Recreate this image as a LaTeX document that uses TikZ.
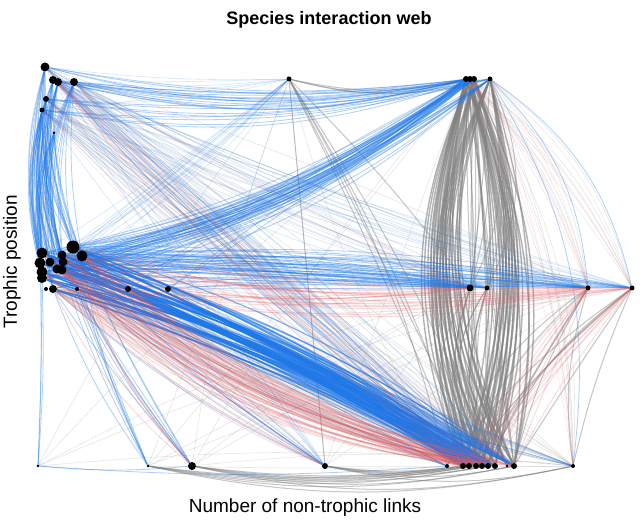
\documentclass[tikz,border=0pt]{standalone}
\usepackage{fontspec}
\setmainfont{Liberation Sans}
\pgfdeclarelayer{back}
\pgfdeclarelayer{edges}
\pgfsetlayers{back,edges,main}
\definecolor{cblue}{RGB}{30,120,232}
\definecolor{cred}{RGB}{226,92,98}
\definecolor{cgray}{RGB}{128,128,128}
\tikzset{
  vtx/.style={circle, fill=black, inner sep=0pt, minimum size=#1},
  blu/.style={draw=cblue, line width=0.8pt, opacity=0.35},
  bluS/.style={draw=cblue, line width=1.2pt, opacity=0.55},
  bluF/.style={draw=cblue, line width=0.6pt, opacity=0.18},
  redl/.style={draw=cred, line width=0.9pt, opacity=0.22},
  redF/.style={draw=cred, line width=0.6pt, opacity=0.15},
  gry/.style={draw=cgray, line width=1pt, opacity=0.45},
  gryT/.style={draw=cgray, line width=1.4pt, opacity=0.6},
  gryF/.style={draw=cgray, line width=0.6pt, opacity=0.2},
  lbl/.style={font=\fontsize{19}{22}\selectfont, inner sep=0pt}
}
\newcommand\webedges[5]{%
  \foreach \a [count=\i] in {#2} {%
    \foreach \b [count=\j] in {#3} {%
      \pgfmathtruncatemacro\bb{#4+mod(\i*7+\j*13,#5+1)-#5/2}%
      \draw[#1] (\a) to[bend left=\bb] (\b);
    }}}
\begin{document}
\begin{tikzpicture}[x=1pt,y=1pt]
\useasboundingbox (0,0) rectangle (640,522);
\begin{pgfonlayer}{back}
\fill[white] (0,0) rectangle (640,522);
\end{pgfonlayer}
% ---- nodes: top row
\node[vtx=9pt] (tl1) at (45,455) {};
\node[vtx=8pt] (tl2) at (53,442) {};
\node[vtx=8pt] (tl3) at (58,440) {};
\node[vtx=8pt] (tl4) at (74,440) {};
\node[vtx=6pt] (tl5) at (46,423) {};
\node[vtx=5pt] (tl6) at (42,412) {};
\node[vtx=3pt] (tl7) at (54,389) {};
\node[vtx=5pt] (tm) at (289,443) {};
\node[vtx=6pt] (tr1) at (466,443) {};
\node[vtx=6pt] (tr2) at (470,443) {};
\node[vtx=6pt] (tr3) at (474,443) {};
\node[vtx=5pt] (tr4) at (490,443) {};
% ---- middle row
\node[vtx=13pt] (ml1) at (73,275) {};
\node[vtx=11pt] (ml2) at (82,266) {};
\node[vtx=11pt] (ml3) at (42,269) {};
\node[vtx=11pt] (ml4) at (40,259) {};
\node[vtx=9pt] (ml5) at (50,260) {};
\node[vtx=9pt] (ml6) at (62,267) {};
\node[vtx=9pt] (ml7) at (63,260) {};
\node[vtx=9pt] (ml8) at (57,253) {};
\node[vtx=9pt] (ml9) at (62,252) {};
\node[vtx=11pt] (ml10) at (42,250) {};
\node[vtx=10pt] (ml11) at (42,244) {};
\node[vtx=8pt] (ml12) at (53,233) {};
\node[vtx=4pt] (ml13) at (46,233) {};
\node[vtx=4pt] (ml14) at (77,233) {};
\node[vtx=6pt] (ml15) at (128,233) {};
\node[vtx=6pt] (ml16) at (168,233) {};
\node[vtx=7pt] (mr1) at (470,234) {};
\node[vtx=5pt] (mr2) at (487,234) {};
\node[vtx=5pt] (mr3) at (588,234) {};
\node[vtx=5pt] (mr4) at (632,234) {};
% ---- bottom row
\node[vtx=3pt] (b1) at (38,56) {};
\node[vtx=3pt] (b2) at (148,56) {};
\node[vtx=8pt] (b3) at (192,56) {};
\node[vtx=6pt] (b4) at (325,56) {};
\node[vtx=4pt] (b5) at (447,56) {};
\node[vtx=6pt] (bc1) at (463,56) {};
\node[vtx=6pt] (bc2) at (469,56) {};
\node[vtx=6pt] (bc3) at (476,56) {};
\node[vtx=6pt] (bc4) at (482,56) {};
\node[vtx=6pt] (bc5) at (488,56) {};
\node[vtx=6pt] (bc6) at (495,56) {};
\node[vtx=3pt] (bc7) at (507,56) {};
\node[vtx=6pt] (bc8) at (514,56) {};
\node[vtx=4pt] (br) at (573,56) {};
% ---- labels
\node[font=\bfseries\fontsize{18}{21}\selectfont, inner sep=0pt] (title) at (329,502) {Species interaction web};
\node[lbl] (xlab) at (305,14) {Number of non-trophic links};
\node[lbl, rotate=90] (ylab) at (12,260) {Trophic position};
% ---- edges
\begin{pgfonlayer}{edges}
% gray
\webedges{gryF}{tl1,tl2,tl4,tl5,tl6}{bc1,bc3,bc5,bc8,br,mr3}{0}{10}
\webedges{gryF}{ml1,ml3,ml5,ml8,ml11,ml12,ml15,ml16}{bc1,bc3,bc6,br,b4,b5}{-4}{12}
\webedges{gryT}{tr1,tr2,tr3,tr4}{bc1,bc2,bc3,bc4,bc5,bc6,bc7,bc8}{-18}{12}
\webedges{gryT}{tr1,tr2,tr3,tr4}{bc1,bc2,bc3,bc4,bc5,bc6,bc8}{17}{12}
\webedges{gry}{tr1,tr2,tr3}{bc1,bc3,bc5,bc8}{0}{8}
\webedges{gry}{mr1,mr2}{bc1,bc2,bc3,bc4,bc5,bc6,bc8}{-20}{30}
\webedges{gry}{mr1,mr2}{tr1,tr2,tr3,tr4}{-15}{30}
\webedges{gry}{mr3,mr4}{bc1,bc3,bc5,bc8,br,b5}{-8}{16}
\webedges{gryF}{tr1,tr2,tr3,tr4}{mr3,mr4,br}{14}{10}
\webedges{gry}{tm}{tr1,tr2,tr4}{-13}{4}
\webedges{gry}{tm}{bc1,bc2,bc4,bc6,b4,mr1,b5}{4}{8}
\webedges{gry}{b2,b3,b4}{bc1,bc2,bc3,bc5,bc8,br}{-10}{6}
\webedges{gryF}{b1,b2,b3,b4,b5}{mr1,mr3,tr1,tm,br}{4}{12}
% blue
\webedges{blu}{tl1,tl2,tl3,tl4,tl5,tl6}{tr1,tr2,tr3,tr4}{-10}{8}
\webedges{blu}{tl1,tl2,tl3,tl4,tl5,tl6,tl7}{ml1,ml2,ml3,ml4,ml5,ml6,ml7,ml8,ml9,ml10,ml11,ml12}{-12}{10}
\webedges{bluF}{tl1,tl2,tl3,tl4,tl5,tl6}{mr1,mr2,mr3,mr4,tm}{-5}{10}
\webedges{bluF}{tl1,tl2,tl3,tl4,tl5,tl6}{bc1,bc2,bc3,bc4,bc5,bc6,bc8,b4}{0}{10}
\webedges{bluS}{ml1,ml2,ml3,ml4,ml5,ml6,ml7,ml8,ml9,ml10,ml11,ml12,ml14}{bc1,bc2,bc3,bc4,bc5,bc6,bc8}{6}{8}
\webedges{blu}{ml1,ml2,ml3,ml4,ml5,ml6,ml7,ml8,ml9,ml10,ml11,ml12}{tr1,tr2,tr3,tr4}{-12}{8}
\webedges{blu}{ml1,ml2,ml3,ml4,ml5,ml6,ml7,ml8,ml9,ml10,ml11}{mr1,mr2,mr3,mr4}{3}{10}
\webedges{bluF}{ml1,ml2,ml3,ml4,ml5,ml6,ml7,ml8,ml9,ml10,ml11,ml12}{tm,br,b5}{-4}{12}
\webedges{blu}{ml1,ml2,ml6,ml7,ml9,ml12,ml14}{b2,b3,b4}{-4}{8}
\webedges{blu}{ml15,ml16}{tr1,tr2,bc1,bc3,bc5,mr1,mr3}{2}{8}
\webedges{blu}{b1}{ml3,ml4,ml11,b5,b3}{-4}{6}
\webedges{blu}{tr4}{mr4,mr3,br}{18}{6}
% red
\webedges{redl}{ml1,ml2,ml3,ml5,ml6,ml8,ml10,ml12,ml14,ml15}{bc1,bc2,bc3,bc5,bc6,bc8}{-12}{10}
\webedges{redl}{ml1,ml2,ml5,ml6,ml8,ml10,ml12,ml15}{mr1,mr3,mr4}{-8}{8}
\webedges{redF}{tl1,tl2,tl3,tl4,tl5,tl6}{bc1,bc3,bc5,bc8,mr1}{-3}{10}
\webedges{redl}{mr3,mr4}{bc1,bc2,bc3,bc4,bc5,bc6,bc8}{-6}{10}
\webedges{redl}{ml1,ml2,ml6,ml9,ml12}{b3,b4}{-10}{8}
\webedges{redF}{tr1,tr2,tr3,tr4}{mr3,mr4,br}{10}{10}
\end{pgfonlayer}
\end{tikzpicture}
\end{document}
